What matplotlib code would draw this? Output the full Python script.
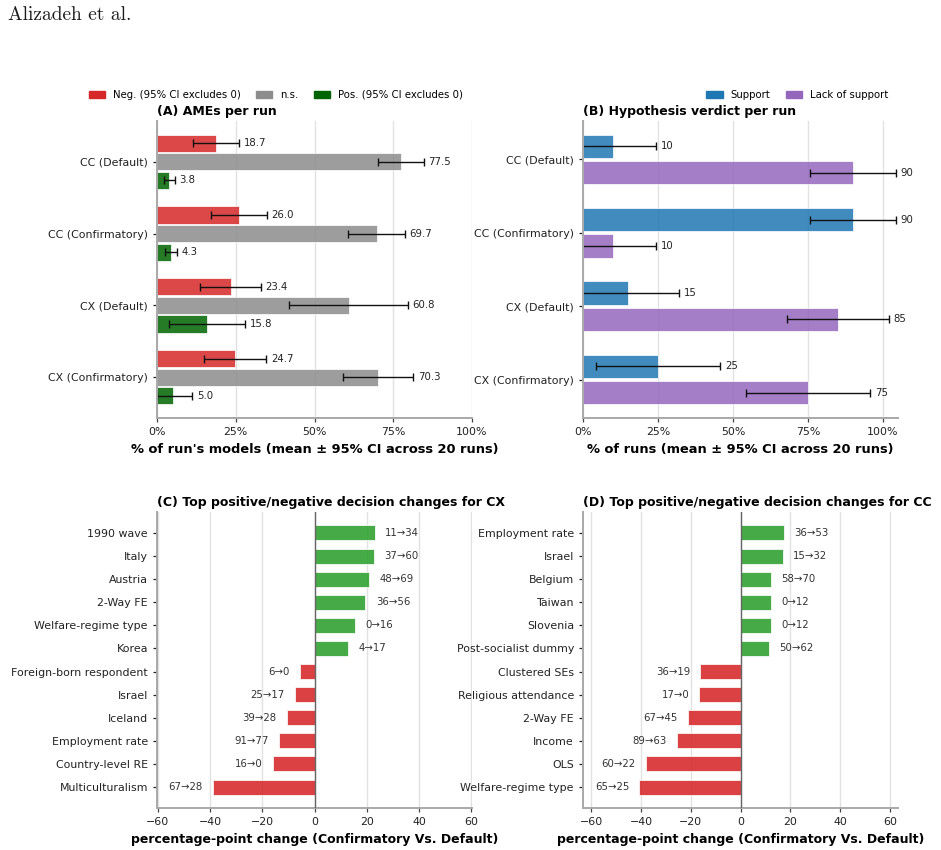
import matplotlib
matplotlib.use("Agg")
import matplotlib.pyplot as plt
import numpy as np
from matplotlib.patches import Patch

# ---------------- data ----------------
runs = ["CC (Default)", "CC (Confirmatory)", "CX (Default)", "CX (Confirmatory)"]

neg_mean = [18.7, 26.0, 23.4, 24.7]
neg_lo = [11.4, 17.2, 13.8, 14.8]
neg_hi = [26.0, 34.9, 33.0, 34.7]
ns_mean = [77.5, 69.7, 60.8, 70.3]
ns_lo = [70.3, 60.7, 41.9, 59.1]
ns_hi = [84.7, 78.6, 79.6, 81.3]
pos_mean = [3.8, 4.3, 15.8, 5.0]
pos_lo = [2.2, 2.4, 3.7, 0.0]
pos_hi = [5.6, 6.3, 28.0, 11.1]

support = [10, 90, 15, 25]
lack = [90, 10, 85, 75]
verdict_err = [14.4, 14.4, 17.1, 20.8]

cx_labels = ["1990 wave", "Italy", "Austria", "2-Way FE", "Welfare-regime type", "Korea",
             "Foreign-born respondent", "Israel", "Iceland", "Employment rate",
             "Country-level RE", "Multiculturalism"]
cx_delta = [23.0, 22.8, 20.8, 19.5, 15.6, 12.8, -5.5, -7.4, -10.7, -13.6, -15.8, -38.7]
cx_before = [11, 37, 48, 36, 0, 4, 6, 25, 39, 91, 16, 67]
cx_after = [34, 60, 69, 56, 16, 17, 0, 17, 28, 77, 0, 28]

cc_labels = ["Employment rate", "Israel", "Belgium", "Taiwan", "Slovenia",
             "Post-socialist dummy", "Clustered SEs", "Religious attendance",
             "2-Way FE", "Income", "OLS", "Welfare-regime type"]
cc_delta = [17.4, 17.0, 12.3, 12.3, 12.3, 11.6, -16.3, -16.6, -21.1, -25.5, -38.1, -40.7]
cc_before = [36, 15, 58, 0, 0, 50, 36, 17, 67, 89, 60, 65]
cc_after = [53, 32, 70, 12, 12, 62, 19, 0, 45, 63, 22, 25]

# ---------------- style ----------------
RED = "#d62728"
GRAY = "#8c8c8c"
DGREEN = "#006400"
GREEN = "#2ca02c"
BLUE = "#1f77b4"
PURPLE = "#9467bd"
SPINE = "#a8a8a8"
GRID = "#e2e2e2"
TICK_FS = 7.9
LBL_FS = 7.3
TITLE_FS = 9.0
XLAB_AB_FS = 9.4
LEG_FS = 7.3

plt.rcParams["font.family"] = ["DejaVu Sans"]

W, H = 941, 850
fig = plt.figure(figsize=(W / 100, H / 100), dpi=100)


def ax_at(l, t, r, b):
    return fig.add_axes([l / W, 1 - b / H, (r - l) / W, (b - t) / H])


axA = ax_at(157, 121, 472, 418)
axB = ax_at(583, 121, 898, 418)
axC = ax_at(157, 512, 472, 808)
axD = ax_at(583, 512, 898, 808)


def style(ax):
    for s in ["top", "right"]:
        ax.spines[s].set_visible(False)
    for s in ["left", "bottom"]:
        ax.spines[s].set_color(SPINE)
        ax.spines[s].set_linewidth(1.4)
    ax.tick_params(axis="both", labelsize=TICK_FS, colors="#222222", length=3, width=0.9)
    ax.tick_params(axis="x", colors="#444444", labelcolor="#222222")
    ax.xaxis.grid(True, color=GRID, linewidth=1.0)
    ax.set_axisbelow(True)


# ---------------- Panel A ----------------
y = np.arange(len(runs))
off = 0.26
h = 0.24
groups = [
    (neg_mean, neg_lo, neg_hi, RED, -off),
    (ns_mean, ns_lo, ns_hi, GRAY, 0.0),
    (pos_mean, pos_lo, pos_hi, DGREEN, off),
]
for m, lo, hi, c, o in groups:
    m = np.array(m); lo = np.array(lo); hi = np.array(hi)
    axA.barh(y + o, m, height=h, color=c, alpha=0.85, edgecolor="white", linewidth=0.6)
    axA.errorbar(m, y + o, xerr=[m - lo, hi - m], fmt="none", ecolor="#111111",
                 elinewidth=1.0, capsize=3, capthick=1.0)
    for yi, (mi, hii) in enumerate(zip(m, hi)):
        axA.text(hii + 1.5, yi + o, f"{mi:.1f}", va="center", ha="left",
                 fontsize=LBL_FS, color="#222222")
axA.set_yticks(y)
axA.set_yticklabels(runs)
axA.invert_yaxis()
axA.set_xlim(0, 100)
axA.set_xticks([0, 25, 50, 75, 100])
axA.set_xticklabels(["0%", "25%", "50%", "75%", "100%"])
style(axA)
axA.set_title("(A) AMEs per run", loc="left", fontsize=TITLE_FS, fontweight="bold", pad=4)
axA.set_xlabel("% of run's models (mean ± 95% CI across 20 runs)", fontsize=XLAB_AB_FS,
               fontweight="bold", labelpad=4)
axA.legend(handles=[Patch(color=RED, label="Neg. (95% CI excludes 0)"),
                    Patch(color=GRAY, label="n.s."),
                    Patch(color=DGREEN, label="Pos. (95% CI excludes 0)")],
           loc="lower right", bbox_to_anchor=(0.972, 1.072), ncol=3, frameon=False,
           fontsize=LEG_FS, handlelength=1.6, handleheight=0.7, columnspacing=1.5,
           handletextpad=0.8, borderaxespad=0.0, borderpad=0.0)

# ---------------- Panel B ----------------
offB = 0.18
hB = 0.32
for vals, c, o in [(support, BLUE, -offB), (lack, PURPLE, offB)]:
    v = np.array(vals, dtype=float)
    e = np.array(verdict_err)
    axB.barh(y + o, v, height=hB, color=c, alpha=0.85, edgecolor="white", linewidth=0.6)
    axB.errorbar(v, y + o, xerr=e, fmt="none", ecolor="#111111", elinewidth=1.0,
                 capsize=3, capthick=1.0)
    for yi, (vi, ei) in enumerate(zip(v, e)):
        axB.text(vi + ei + 1.5, yi + o, f"{vi:.0f}", va="center", ha="left",
                 fontsize=LBL_FS, color="#222222")
axB.set_yticks(y)
axB.set_yticklabels(runs)
axB.invert_yaxis()
axB.set_xlim(0, 105)
axB.set_xticks([0, 25, 50, 75, 100])
axB.set_xticklabels(["0%", "25%", "50%", "75%", "100%"])
style(axB)
axB.set_title("(B) Hypothesis verdict per run", loc="left", fontsize=TITLE_FS,
              fontweight="bold", pad=4)
axB.set_xlabel("% of runs (mean ± 95% CI across 20 runs)", fontsize=XLAB_AB_FS,
               fontweight="bold", labelpad=4)
axB.legend(handles=[Patch(color=BLUE, label="Support"),
                    Patch(color=PURPLE, label="Lack of support")],
           loc="lower right", bbox_to_anchor=(0.97, 1.072), ncol=2, frameon=False,
           fontsize=LEG_FS, handlelength=1.6, handleheight=0.7, columnspacing=1.5,
           handletextpad=0.8, borderaxespad=0.0, borderpad=0.0)


# ---------------- Panels C & D ----------------
def change_panel(ax, labels, delta, before, after, xlim, title):
    yy = np.arange(len(labels))
    d = np.array(delta)
    cols = [GREEN if v > 0 else RED for v in d]
    ax.barh(yy, d, height=0.65, color=cols, alpha=0.88, edgecolor="white", linewidth=0.6)
    ax.axvline(0, color="#666666", linewidth=1.0, zorder=3)
    for yi, (v, b, a) in enumerate(zip(d, before, after)):
        if v > 0:
            ax.text(v + 4, yi, f"{b}\u2192{a}", va="center", ha="left",
                    fontsize=LBL_FS, color="#333333")
        else:
            ax.text(v - 4, yi, f"{b}\u2192{a}", va="center", ha="right",
                    fontsize=LBL_FS, color="#333333")
    ax.set_yticks(yy)
    ax.set_yticklabels(labels)
    ax.invert_yaxis()
    ax.set_xlim(*xlim)
    ax.set_xticks([-60, -40, -20, 0, 20, 40, 60])
    style(ax)
    ax.set_title(title, loc="left", fontsize=TITLE_FS, fontweight="bold", pad=4)
    ax.set_xlabel("percentage-point change (Confirmatory Vs. Default)", fontsize=TITLE_FS,
                  fontweight="bold", labelpad=4)


change_panel(axC, cx_labels, cx_delta, cx_before, cx_after, (-60.3, 60.3),
             "(C) Top positive/negative decision changes for CX")
change_panel(axD, cc_labels, cc_delta, cc_before, cc_after, (-63.3, 63.3),
             "(D) Top positive/negative decision changes for CC")

fig.text(8 / W, 1 - 15 / H, "Alizadeh et al.", fontsize=14, family="cmr10",
         ha="left", va="center", color="#1a1a1a")

fig.savefig("out.png", dpi=100)
